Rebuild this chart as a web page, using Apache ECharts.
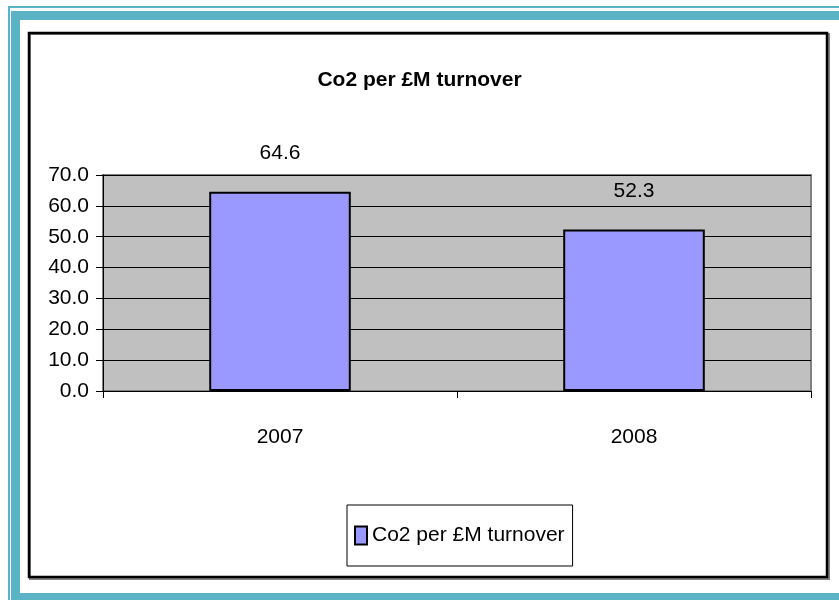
<!DOCTYPE html>
<html>
<head>
<meta charset="utf-8">
<script src="https://cdn.jsdelivr.net/npm/echarts@6/dist/echarts.min.js"></script>
<style>
  html, body { margin: 0; padding: 0; background: #fff; }
  #chart { width: 839px; height: 600px; }
</style>
</head>
<body>
<div id="chart"></div>
<script>
var years = ['2007', '2008'];
var co2Values = [64.6, 52.3];
var seriesName = 'Co2 per £M turnover';

var narrow = "'Liberation Sans Narrow', 'Arial Narrow', 'Liberation Sans', sans-serif";
var teal = '#5ab4c6';

var myChart = echarts.init(document.getElementById('chart'));

var option = {
    backgroundColor: '#fff',
    animation: false,
    title: {
        text: seriesName,
        left: 'center',
        top: 65,
        textStyle: {
            fontFamily: narrow,
            fontWeight: 'bold',
            fontSize: 21,
            color: '#000'
        }
    },
    legend: {
        data: [seriesName],
        left: 347,
        top: 505,
        padding: [20, 8, 20, 7],
        borderColor: '#000',
        borderWidth: 1,
        itemWidth: 12,
        itemHeight: 18,
        itemGap: 4,
        icon: 'rect',
        textStyle: {
            fontFamily: narrow,
            fontSize: 21,
            color: '#000'
        }
    },
    graphic: [
        // outer frame decoration
        { type: 'rect', shape: { x: 8, y: 6, width: 840, height: 2 }, style: { fill: teal } },
        { type: 'rect', shape: { x: 8, y: 6, width: 2, height: 600 }, style: { fill: teal } },
        { type: 'rect', shape: { x: 11, y: 11, width: 840, height: 9 }, style: { fill: teal } },
        { type: 'rect', shape: { x: 11, y: 11, width: 9, height: 600 }, style: { fill: teal } },
        { type: 'rect', shape: { x: 11, y: 593, width: 840, height: 8 }, style: { fill: teal } },
        { type: 'rect', shape: { x: 30, y: 34, width: 799, height: 545 }, style: { fill: 'none', stroke: '#808080', lineWidth: 2 } },
        { type: 'rect', shape: { x: 29, y: 33, width: 798, height: 544 }, style: { fill: 'none', stroke: '#000', lineWidth: 2.5 } }
    ],
    grid: {
        left: 103,
        right: 28,
        top: 175,
        bottom: 209,
        show: true,
        backgroundColor: '#c0c0c0',
        borderColor: '#808080',
        borderWidth: 2
    },
    xAxis: {
        type: 'category',
        data: years,
        boundaryGap: true,
        axisLine: { lineStyle: { color: '#000', width: 1 } },
        axisTick: { show: true, length: 7, lineStyle: { color: '#000' } },
        axisLabel: {
            margin: 36,
            fontFamily: narrow,
            fontSize: 21,
            color: '#000'
        }
    },
    yAxis: {
        type: 'value',
        min: 0,
        max: 70,
        interval: 10,
        axisLine: { show: true, lineStyle: { color: '#000', width: 1 } },
        axisTick: { show: true, length: 7, lineStyle: { color: '#000' } },
        axisLabel: {
            margin: 14,
            fontFamily: narrow,
            fontSize: 21,
            color: '#000',
            formatter: function (v) { return v.toFixed(1); }
        },
        splitLine: { show: true, lineStyle: { color: '#000', width: 1 } }
    },
    series: [
        {
            name: seriesName,
            type: 'bar',
            data: co2Values,
            barWidth: '40%',
            itemStyle: {
                color: '#9999ff',
                borderColor: '#000',
                borderWidth: 2
            },
            label: {
                show: true,
                position: 'top',
                distance: 28,
                fontFamily: narrow,
                fontSize: 21,
                color: '#000',
                formatter: function (p) { return p.value.toFixed(1); }
            }
        }
    ]
};

myChart.setOption(option);
</script>
</body>
</html>
